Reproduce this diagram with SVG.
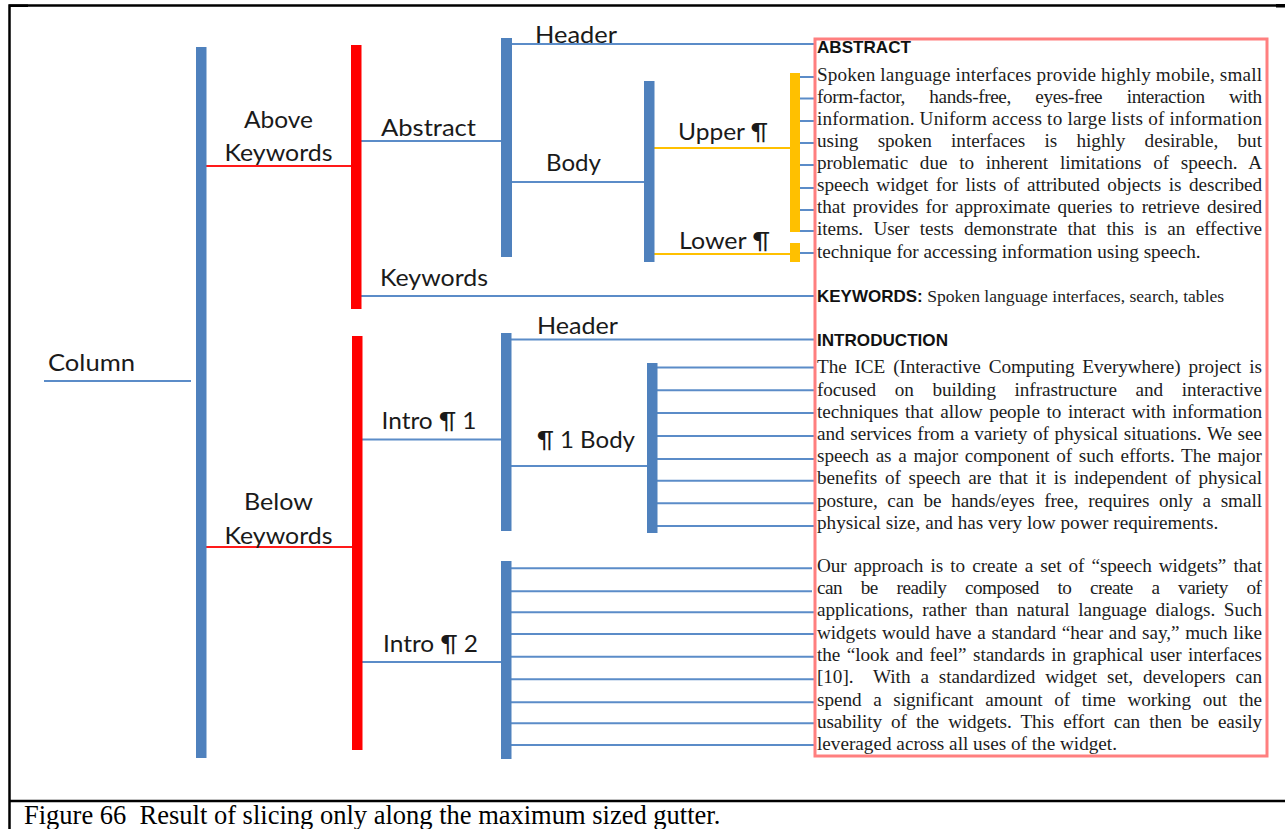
<svg xmlns="http://www.w3.org/2000/svg" width="1285" height="829" viewBox="0 0 1285 829">
<style>
.bb{fill:#4f81bd}
.br{fill:#ff0000}
.bo{fill:#ffc000}
.lb{stroke:#5b8cc8;stroke-width:2;fill:none}
.lr{stroke:#ff1a1a;stroke-width:2;fill:none}
.lo{stroke:#ffc000;stroke-width:2;fill:none}
.frame{stroke:#000;stroke-width:2.5;fill:none}
.lbl{font-family:Lato,"Open Sans","Liberation Sans",sans-serif;font-size:24px;fill:#1a1a1a}
.tx{font-family:"Liberation Serif","Times New Roman",serif;font-size:19.2px;fill:#1c1c1c}
.kw{font-family:"Liberation Serif","Times New Roman",serif;font-size:17.6px;fill:#1c1c1c}
.hd{font-family:"Liberation Sans",Arial,sans-serif;font-weight:bold;font-size:17px;fill:#111}
.cap{font-family:"Liberation Serif","Times New Roman",serif;font-size:26.5px;fill:#000}
.box{fill:#fff;stroke:#ff7f7f;stroke-width:3}
</style>
<rect width="1285" height="829" fill="#fff"/>
<g id="frame">
<path class="frame" d="M9.5 829 V5.5 H1285"/>
<path class="frame" d="M9.5 801 H1285"/>
<rect x="1276" y="4" width="9" height="3.5" fill="#000"/>
<rect x="9" y="4.5" width="19" height="2.5" fill="#000"/>
</g>
<g id="connectors">
<line class="lb" x1="44" y1="381" x2="191" y2="381"/>
<line class="lr" x1="206" y1="166" x2="351" y2="166"/>
<line class="lr" x1="206" y1="547" x2="352" y2="547"/>
<line class="lb" x1="361" y1="141" x2="501" y2="141"/>
<line class="lb" x1="512" y1="44" x2="815" y2="44"/>
<line class="lb" x1="512" y1="182" x2="644" y2="182"/>
<line class="lo" x1="654" y1="148" x2="790" y2="148"/>
<line class="lo" x1="654" y1="254" x2="790" y2="254"/>
<line class="lb" x1="361" y1="296" x2="815" y2="296"/>
<line class="lb" x1="800" y1="77" x2="816" y2="77"/>
<line class="lb" x1="800" y1="98.5" x2="816" y2="98.5"/>
<line class="lb" x1="800" y1="121" x2="816" y2="121"/>
<line class="lb" x1="800" y1="143" x2="816" y2="143"/>
<line class="lb" x1="800" y1="165" x2="816" y2="165"/>
<line class="lb" x1="800" y1="188" x2="816" y2="188"/>
<line class="lb" x1="800" y1="210" x2="816" y2="210"/>
<line class="lb" x1="800" y1="231" x2="816" y2="231"/>
<line class="lb" x1="800" y1="253" x2="816" y2="253"/>
<line class="lb" x1="511" y1="339.5" x2="815" y2="339.5"/>
<line class="lb" x1="362" y1="439.5" x2="501" y2="439.5"/>
<line class="lb" x1="511" y1="466" x2="647" y2="466"/>
<line class="lb" x1="657" y1="367.5" x2="816" y2="367.5"/>
<line class="lb" x1="657" y1="390.3" x2="816" y2="390.3"/>
<line class="lb" x1="657" y1="413" x2="816" y2="413"/>
<line class="lb" x1="657" y1="436" x2="816" y2="436"/>
<line class="lb" x1="657" y1="459" x2="816" y2="459"/>
<line class="lb" x1="657" y1="480.7" x2="816" y2="480.7"/>
<line class="lb" x1="657" y1="503.3" x2="816" y2="503.3"/>
<line class="lb" x1="657" y1="526" x2="816" y2="526"/>
<line class="lb" x1="362" y1="662" x2="501" y2="662"/>
<line class="lb" x1="511" y1="568.3" x2="812" y2="568.3"/>
<line class="lb" x1="511" y1="591.3" x2="812" y2="591.3"/>
<line class="lb" x1="511" y1="612.3" x2="816" y2="612.3"/>
<line class="lb" x1="511" y1="634" x2="816" y2="634"/>
<line class="lb" x1="511" y1="656.7" x2="816" y2="656.7"/>
<line class="lb" x1="511" y1="679.3" x2="816" y2="679.3"/>
<line class="lb" x1="511" y1="702.3" x2="816" y2="702.3"/>
<line class="lb" x1="511" y1="723.3" x2="816" y2="723.3"/>
<line class="lb" x1="511" y1="745" x2="816" y2="745"/>
</g>
<g id="node-column">
<rect class="bb" x="196" y="47" width="10.5" height="711"/>
<text class="lbl" x="48" y="371" textLength="87" lengthAdjust="spacingAndGlyphs">Column</text>
</g>
<g id="node-above-keywords">
<rect class="br" x="351" y="45" width="10.5" height="264"/>
<text class="lbl" x="244" y="128" textLength="69" lengthAdjust="spacingAndGlyphs">Above</text>
<text class="lbl" x="224.5" y="161" textLength="108" lengthAdjust="spacingAndGlyphs">Keywords</text>
</g>
<g id="node-below-keywords">
<rect class="br" x="352" y="336" width="10.5" height="414"/>
<text class="lbl" x="244" y="510" textLength="69" lengthAdjust="spacingAndGlyphs">Below</text>
<text class="lbl" x="224.5" y="544" textLength="108" lengthAdjust="spacingAndGlyphs">Keywords</text>
</g>
<g id="node-abstract">
<rect class="bb" x="501" y="38" width="11" height="219"/>
<text class="lbl" x="381" y="136" textLength="95" lengthAdjust="spacingAndGlyphs">Abstract</text>
</g>
<g id="node-abstract-header">
<text class="lbl" x="535" y="43" textLength="82" lengthAdjust="spacingAndGlyphs">Header</text>
</g>
<g id="node-abstract-body">
<rect class="bb" x="644" y="81" width="10.5" height="181"/>
<text class="lbl" x="546" y="171" textLength="55" lengthAdjust="spacingAndGlyphs">Body</text>
</g>
<g id="node-upper-para">
<rect class="bo" x="790" y="73" width="10" height="159"/>
<text class="lbl" x="678" y="140" textLength="90" lengthAdjust="spacingAndGlyphs">Upper ¶</text>
</g>
<g id="node-lower-para">
<rect class="bo" x="790" y="243" width="10" height="19"/>
<text class="lbl" x="679" y="249" textLength="91" lengthAdjust="spacingAndGlyphs">Lower ¶</text>
</g>
<g id="node-keywords">
<text class="lbl" x="380" y="286" textLength="108" lengthAdjust="spacingAndGlyphs">Keywords</text>
</g>
<g id="node-intro-1">
<rect class="bb" x="501" y="333" width="10.5" height="198"/>
<text class="lbl" x="381.5" y="429" textLength="95" lengthAdjust="spacingAndGlyphs">Intro ¶ 1</text>
</g>
<g id="node-intro-header">
<text class="lbl" x="537" y="334" textLength="81" lengthAdjust="spacingAndGlyphs">Header</text>
</g>
<g id="node-intro-1-body">
<rect class="bb" x="647" y="363" width="10.5" height="170"/>
<text class="lbl" x="537" y="448" textLength="98" lengthAdjust="spacingAndGlyphs">¶ 1 Body</text>
</g>
<g id="node-intro-2">
<rect class="bb" x="501" y="561" width="10.5" height="198"/>
<text class="lbl" x="383" y="651.5" textLength="95" lengthAdjust="spacingAndGlyphs">Intro ¶ 2</text>
</g>
<g id="node-page">
<rect class="box" x="815" y="39" width="452" height="717"/>
<text class="hd" x="817" y="52.5" textLength="94" lengthAdjust="spacingAndGlyphs">ABSTRACT</text>
<text class="tx" x="817" y="80.7" textLength="445">Spoken language interfaces provide highly mobile, small</text>
<text class="tx" x="817" y="102.8" textLength="445" word-spacing="20">form-factor, hands-free, eyes-free interaction with</text>
<text class="tx" x="817" y="124.9" textLength="445">information. Uniform access to large lists of information</text>
<text class="tx" x="817" y="147" textLength="445" word-spacing="14.5">using spoken interfaces is highly desirable, but</text>
<text class="tx" x="817" y="169.1" textLength="445" word-spacing="7">problematic due to inherent limitations of speech. A</text>
<text class="tx" x="817" y="191.2" textLength="445" word-spacing="2.8">speech widget for lists of attributed objects is described</text>
<text class="tx" x="817" y="213.3" textLength="445" word-spacing="2.5">that provides for approximate queries to retrieve desired</text>
<text class="tx" x="817" y="235.4" textLength="445" word-spacing="5.6">items. User tests demonstrate that this is an effective</text>
<text class="tx" x="817" y="257.5">technique for accessing information using speech.</text>
<text x="817" y="301.5"><tspan class="hd">KEYWORDS:</tspan><tspan class="kw"> Spoken language interfaces, search, tables</tspan></text>
<text class="hd" x="817" y="345.5" textLength="131" lengthAdjust="spacingAndGlyphs">INTRODUCTION</text>
<text class="tx" x="817" y="373.3" textLength="445" word-spacing="3.2">The ICE (Interactive Computing Everywhere) project is</text>
<text class="tx" x="817" y="395.5" textLength="445" word-spacing="14">focused on building infrastructure and interactive</text>
<text class="tx" x="817" y="417.7" textLength="445" word-spacing="2">techniques that allow people to interact with information</text>
<text class="tx" x="817" y="439.9" textLength="445" word-spacing="1">and services from a variety of physical situations. We see</text>
<text class="tx" x="817" y="462.1" textLength="445" word-spacing="2">speech as a major component of such efforts. The major</text>
<text class="tx" x="817" y="484.3" textLength="445" word-spacing="3">benefits of speech are that it is independent of physical</text>
<text class="tx" x="817" y="506.5" textLength="445" word-spacing="5">posture, can be hands/eyes free, requires only a small</text>
<text class="tx" x="817" y="528.7">physical size, and has very low power requirements.</text>
<text class="tx" x="817" y="571.7" textLength="445" word-spacing="2.5">Our approach is to create a set of “speech widgets” that</text>
<text class="tx" x="817" y="594" textLength="445" word-spacing="14.3">can be readily composed to create a variety of</text>
<text class="tx" x="817" y="616.3" textLength="445" word-spacing="4">applications, rather than natural language dialogs. Such</text>
<text class="tx" x="817" y="638.6" textLength="445" word-spacing="1">widgets would have a standard “hear and say,” much like</text>
<text class="tx" x="817" y="660.9" textLength="445" word-spacing="1.8">the “look and feel” standards in graphical user interfaces</text>
<text class="tx" x="817" y="683.2" textLength="445" word-spacing="5.2" xml:space="preserve">[10].  With a standardized widget set, developers can</text>
<text class="tx" x="817" y="705.5" textLength="445" word-spacing="7">spend a significant amount of time working out the</text>
<text class="tx" x="817" y="727.8" textLength="445" word-spacing="4.5">usability of the widgets. This effort can then be easily</text>
<text class="tx" x="817" y="750.1">leveraged across all uses of the widget.</text>
</g>
<g id="caption">
<text class="cap" x="24" y="824" xml:space="preserve">Figure 66  Result of slicing only along the maximum sized gutter.</text>
</g>
</svg>
